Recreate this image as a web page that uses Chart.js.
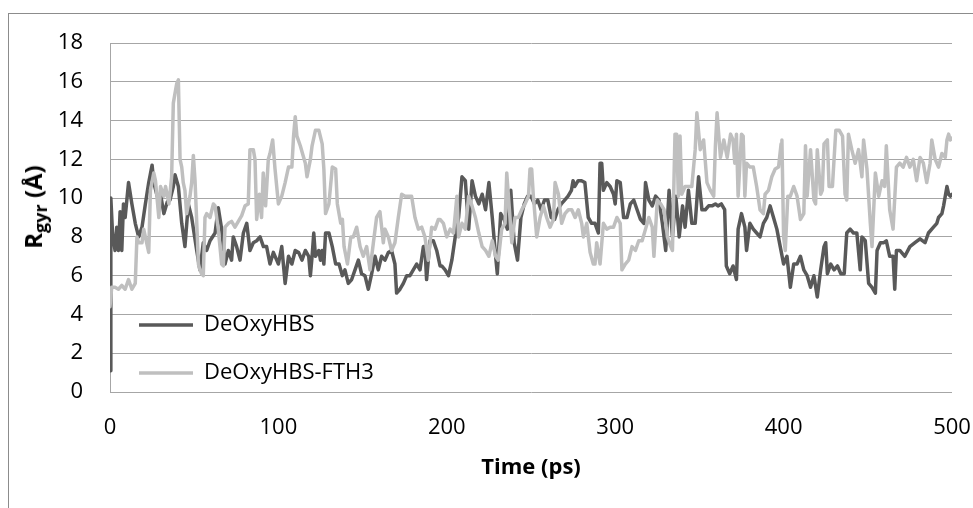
<!DOCTYPE html>
<html><head><meta charset="utf-8">
<script src="https://cdn.jsdelivr.net/npm/chart.js@4.4.1/dist/chart.umd.min.js"></script>
<style>
html,body{margin:0;padding:0;background:#fff;}
#wrap{position:relative;width:973px;height:508px;overflow:hidden;background:#fff;}
#frame{position:absolute;left:8px;top:13px;width:990px;height:530px;border:1px solid #8c8c8c;box-sizing:border-box;}
#c{position:absolute;left:0;top:0;}
#ytitle{position:absolute;left:34px;top:207px;transform:translate(-50%,-50%) rotate(-90deg);font:bold 24px "Open Sans";white-space:nowrap;color:#000;line-height:28px;}
#ytitle sub{font-size:18px;vertical-align:baseline;position:relative;top:5px;}
</style></head>
<body><div id="wrap"><div id="frame"></div><canvas id="c" width="973" height="508"></canvas><div id="ytitle">R<sub>gyr</sub> (Å)</div></div>
<script>
// Series names
const seriesNames = ['DeOxyHBS', 'DeOxyHBS-FTH3'];
// [time (ps), Rgyr (Å)]
const deoxyHBS = [[0,1.1],[0.5,10.0],[1.5,8.2],[3,7.3],[4,8.5],[5,7.3],[6,9.3],[7,7.3],[8,9.7],[9,9.0],[11,10.8],[13,9.7],[15,8.7],[17,8.0],[19,8.5],[21,9.7],[23,10.8],[25,11.7],[26,10.8],[28,10.1],[30,10.2],[32,9.2],[34,9.8],[35.6,9.9],[37.6,10.6],[38.6,11.2],[40.6,10.6],[42.6,8.7],[44.5,7.5],[46.5,9.7],[48.5,9.0],[51.5,7.3],[53.4,6.3],[55.4,7.7],[57.4,7.3],[59.4,7.8],[62.4,8.2],[64.3,9.5],[66.3,8.4],[68.3,6.6],[70.3,7.3],[72.2,6.8],[73.2,8.0],[75.2,7.5],[77.2,6.8],[79.2,8.2],[81.2,8.7],[83.1,7.3],[85.1,7.7],[87.1,7.8],[89.1,8.0],[91.1,7.5],[93,7.5],[95,6.6],[97,7.2],[99,6.8],[100,6.6],[102,7.5],[104,5.6],[106,7.0],[108,6.6],[110,7.3],[112,7.2],[114,6.8],[116,7.3],[118,7.0],[119,6.0],[120,7.0],[121,8.2],[122,7.0],[124,7.3],[125,6.8],[126,7.3],[127,6.6],[128,8.2],[130,8.2],[132,7.5],[134,6.6],[136,6.6],[138,6.0],[139.5,6.3],[141.5,5.6],[143.5,5.8],[145.5,6.3],[147.5,6.8],[149.4,6.1],[151.4,6.0],[153.4,5.3],[155.4,6.1],[157.4,7.0],[159.3,6.3],[161.3,7.0],[163.3,6.8],[165.3,7.2],[167.2,7.3],[169.2,6.6],[170.2,5.1],[172.2,5.3],[174.2,5.6],[176.2,6.0],[178.1,6.0],[180.1,6.3],[182.1,6.6],[184.1,6.3],[186.1,7.5],[187,7.5],[188,5.8],[190,7.8],[192,7.8],[194,7.3],[196,6.5],[197,6.5],[199,6.3],[201,6.0],[203,6.8],[205,8.0],[207,9.0],[209,11.1],[211,10.9],[213,8.4],[215,10.9],[217,10.1],[219,9.7],[221,10.2],[223,9.4],[225,10.8],[227,9.0],[229,7.0],[230,6.1],[232,9.2],[234,8.9],[236,8.4],[238,10.4],[240,7.7],[242,6.8],[244,9.0],[246,9.7],[248,10.1],[250,10.1],[252,9.7],[254,9.9],[256,9.4],[258,9.9],[260,9.9],[262,9.0],[264,8.9],[266,9.4],[268,9.7],[270,9.9],[272,10.1],[274,10.4],[275,10.9],[276,10.6],[278,10.9],[280,10.9],[282,10.8],[284,9.0],[286,8.7],[288,8.7],[290,8.2],[291,11.8],[292,11.8],[293,10.4],[295,10.8],[297,10.6],[299,10.2],[300,9.7],[301,10.9],[303,10.8],[305,9.0],[307,9.0],[309,9.7],[311,9.9],[313,9.4],[315,8.9],[317,8.7],[318,10.8],[320,9.9],[322,9.6],[324,10.1],[326,9.9],[328,8.7],[330,7.3],[332,10.4],[334,8.0],[336,10.1],[338,8.0],[340,9.6],[341.5,8.5],[343.5,10.4],[345.5,8.7],[347.5,8.7],[349.5,11.1],[351.5,9.4],[353.5,9.4],[355.5,9.6],[357.5,9.6],[359.5,9.7],[361,9.6],[363,9.7],[365,9.4],[366,6.5],[368,6.1],[370,6.5],[372,5.8],[373,8.4],[375,9.2],[377,8.5],[378,7.3],[380,8.7],[382,8.4],[384,8.2],[386,8.0],[388,8.7],[390,9.0],[392,9.6],[394,9.0],[396,8.4],[398,7.5],[400,6.6],[402,7.0],[404,5.4],[406,6.6],[408,6.6],[410,7.0],[412,6.3],[414,6.0],[416,5.4],[418,6.0],[420,4.9],[422,6.3],[424,7.5],[425,7.7],[426,6.1],[428,6.6],[430,6.3],[432,6.5],[434,6.1],[436,6.1],[437.5,8.2],[439.5,8.4],[441.5,8.2],[443.5,8.2],[445.5,6.3],[446.5,8.0],[448.5,7.8],[450.5,5.6],[452.5,5.4],[454.5,5.1],[455.5,7.3],[457.5,7.7],[459.5,7.7],[461,7.8],[463,7.0],[465,7.0],[466,5.3],[467,7.3],[469,7.3],[472,7.0],[475,7.5],[478,7.7],[481,7.9],[484,7.7],[486,8.2],[489,8.5],[491,8.7],[492,9.0],[494,9.2],[495,9.6],[497,10.6],[498,10.2],[499,10.1],[500,10.2]];
const deoxyHBS_FTH3 = [[0,4.4],[1,5.4],[3,5.4],[5,5.3],[7,5.5],[9,5.3],[11,5.8],[13,5.3],[15,5.6],[16,8.0],[17,7.7],[19,7.7],[20,8.4],[21,8.0],[23,7.2],[24,10.4],[26,11.3],[27,10.9],[29,9.0],[30,10.6],[32,10.1],[33,10.6],[35,9.7],[36.6,11.1],[37.6,14.9],[39.6,15.9],[40.6,16.1],[41.6,12.0],[42.6,11.6],[43.5,10.8],[44.5,10.4],[45.5,9.2],[47.5,10.1],[48.5,10.8],[49.5,12.2],[50.5,10.9],[52.5,6.6],[53.4,6.3],[54.4,6.1],[55.4,6.0],[56.4,9.0],[57.4,9.2],[59.4,9.0],[61.4,9.7],[62.4,9.6],[64.3,8.4],[66.3,6.6],[67.3,6.5],[68.3,8.5],[70.3,8.7],[72.2,8.8],[74.2,8.5],[76.2,8.8],[78.2,9.1],[80.2,9.6],[82.1,9.7],[83.1,12.5],[85.1,12.5],[86.1,12.0],[87.1,8.9],[88.7,10.2],[90,9.0],[91,11.3],[92.4,9.6],[94,12.0],[95,12.3],[96.6,13.0],[98,11.5],[100,9.7],[102,10.1],[104,10.8],[106,11.6],[108,11.6],[109,13.2],[110,14.2],[111,13.2],[113,12.7],[115,12.1],[116,11.8],[117,11.1],[119,12.0],[120,12.7],[122,13.5],[124,13.5],[126,12.8],[127,11.5],[128,9.2],[130,9.7],[132,11.6],[134,11.5],[135,9.7],[137,8.7],[138,8.9],[139,7.5],[141,6.6],[143,8.0],[144.5,8.0],[146.5,8.5],[148.5,7.5],[150.4,7.0],[152.4,7.5],[154.4,6.3],[156.4,7.7],[158.3,9.0],[160.3,9.3],[162.3,7.7],[163.3,8.4],[165.3,8.0],[167.2,7.3],[169.2,7.7],[171.2,9.0],[173.2,10.2],[175.2,10.1],[177.1,10.1],[179.1,10.1],[181.1,9.0],[183.1,8.4],[185.1,8.5],[187,8.0],[189,6.8],[191,8.5],[193,8.4],[195,8.9],[196,8.9],[198,8.7],[200,8.0],[202,8.4],[204,8.2],[206,10.1],[207,8.0],[209,8.7],[211,8.4],[213,10.1],[215,9.6],[217,9.0],[219,8.2],[221,7.5],[223,7.3],[225,7.0],[227,7.8],[229,7.0],[230.6,6.8],[232.6,8.4],[234.6,8.7],[235.6,11.3],[236.6,10.1],[238.6,7.7],[240.5,9.0],[242.5,9.0],[244.5,9.4],[246.5,9.7],[248.5,10.1],[249.4,11.5],[250.4,11.5],[251.4,10.1],[253.4,8.0],[255.4,9.0],[257.4,9.6],[259.3,9.0],[261.3,8.5],[263.3,8.9],[264.3,10.8],[266.3,10.2],[268.2,8.7],[270.2,9.2],[272.2,9.4],[274.2,9.4],[276.2,9.0],[278.1,9.4],[280.1,8.7],[281.1,8.0],[283.1,8.7],[285.1,7.2],[287,6.6],[288,6.6],[289,7.7],[291,6.6],[293,8.7],[295,8.4],[297,8.5],[299,8.5],[301,9.0],[303,8.7],[304,6.3],[306,6.6],[308,6.8],[310,7.5],[312,7.3],[314,7.8],[316,7.8],[318,8.4],[320,9.0],[322,8.5],[323,7.0],[325,9.9],[327,9.7],[329,9.4],[331,8.0],[333,7.5],[334,7.3],[335.5,13.3],[336.5,13.3],[337.5,10.1],[338.5,13.2],[339.5,10.2],[341.5,10.6],[343.5,10.6],[345.5,10.6],[347.5,12.5],[348.5,14.4],[350.5,12.5],[352.5,13.0],[354.5,10.8],[356.5,10.4],[358.5,10.1],[359.5,12.7],[360.5,14.4],[362.5,12.1],[364.5,13.0],[366.5,12.1],[368.5,13.3],[370,13.0],[371,11.8],[372,13.3],[373,10.1],[375,13.3],[376,13.2],[377,10.1],[378,11.8],[380,11.6],[382,11.6],[384,10.6],[386,9.4],[388,9.2],[389,10.2],[391,10.4],[393,11.1],[395,11.5],[397,11.6],[398.5,12.8],[399,13.0],[400,8.0],[401,7.3],[402.5,10.1],[404,10.1],[406,10.6],[408,10.1],[410,8.9],[412,9.2],[413,12.7],[414,10.1],[416,12.5],[418,9.9],[419,9.7],[420,12.5],[422,10.2],[423,10.4],[424,12.8],[426,13.0],[427,10.6],[429,10.6],[431,13.5],[433,13.5],[435,13.2],[436.5,10.2],[437.5,9.9],[438.5,13.3],[440.5,12.5],[442.5,11.8],[444.5,12.5],[446.5,11.1],[447.5,13.0],[449.5,11.5],[451.5,8.7],[452.5,7.5],[454.5,11.3],[456.5,10.1],[458.5,10.9],[460,10.6],[461,12.7],[463,9.4],[465,8.4],[467,11.6],[469,11.8],[471,11.6],[473,12.1],[475,11.6],[477,12.0],[479,10.9],[481,12.1],[483,11.8],[485,10.8],[487,11.8],[488,13.0],[490,12.0],[492,11.6],[494,12.3],[496,12.1],[497,13.0],[498,13.3],[499,13.0],[500,13.1]];
const xTicks = [0, 100, 200, 300, 400, 500];
const yTicks = [0, 2, 4, 6, 8, 10, 12, 14, 16, 18];

const toPts = arr => arr.map(p => ({x: p[0], y: p[1]}));
const FONT = '"Open Sans", sans-serif';

// Legend sits inside the plot area, lower left (like the reference)
const legendShift = {
  id: 'legendShift',
  afterLayout(chart) {
    const lg = chart.legend;
    if (!lg) return;
    const dx = 3, dy = chart.chartArea.top + 18;
    lg.left += dx; lg.right += dx; lg.top += dy; lg.bottom += dy;
  }
};

new Chart(document.getElementById('c'), {
  type: 'line',
  data: {
    datasets: [
      { label: seriesNames[0], data: toPts(deoxyHBS), borderColor: '#595959', backgroundColor: '#595959',
        borderWidth: 3.5, pointRadius: 0, tension: 0, order: 1, borderJoinStyle: 'round', borderCapStyle: 'round' },
      { label: seriesNames[1], data: toPts(deoxyHBS_FTH3), borderColor: '#bfbfbf', backgroundColor: '#bfbfbf',
        borderWidth: 3.5, pointRadius: 0, tension: 0, order: 0, borderJoinStyle: 'round', borderCapStyle: 'round' }
    ]
  },
  options: {
    responsive: false,
    animation: false,
    devicePixelRatio: 1,
    layout: { padding: { left: 0, top: 43, right: 21, bottom: 0 } },
    plugins: {
      tooltip: { enabled: false },
      legend: {
        position: 'chartArea',
        align: 'end',
        labels: {
          usePointStyle: true,
          pointStyle: 'line',
          pointStyleWidth: 54,
          boxHeight: 4,
          padding: 26,
          color: '#000',
          font: { family: FONT, size: 22 },
          sort: (a, b) => a.datasetIndex - b.datasetIndex
        }
      }
    },
    scales: {
      x: {
        type: 'linear', min: 0, max: 500,
        afterBuildTicks: s => { s.ticks = xTicks.map(v => ({value: v})); },
        afterFit: s => { s.height = 116; s.paddingLeft = 0; s.paddingRight = 0; },
        grid: { display: false, drawTicks: false },
        border: { display: false },
        ticks: { padding: 23, color: '#000', font: { family: FONT, size: 22 }, maxRotation: 0 },
        title: { display: true, text: 'Time (ps)', color: '#000', font: { family: FONT, size: 22, weight: 'bold' }, padding: { top: 0, bottom: 27 } }
      },
      y: {
        min: 0, max: 18,
        afterBuildTicks: s => { s.ticks = yTicks.map(v => ({value: v})); },
        afterFit: s => { s.width = 110; },
        grid: { color: '#a6a6a6', lineWidth: 1, drawTicks: false },
        border: { display: true, color: '#a6a6a6', width: 1 },
        ticks: { padding: 27, color: '#000', font: { family: FONT, size: 22 } }
      }
    }
  },
  plugins: [legendShift]
});
</script>
</body></html>
